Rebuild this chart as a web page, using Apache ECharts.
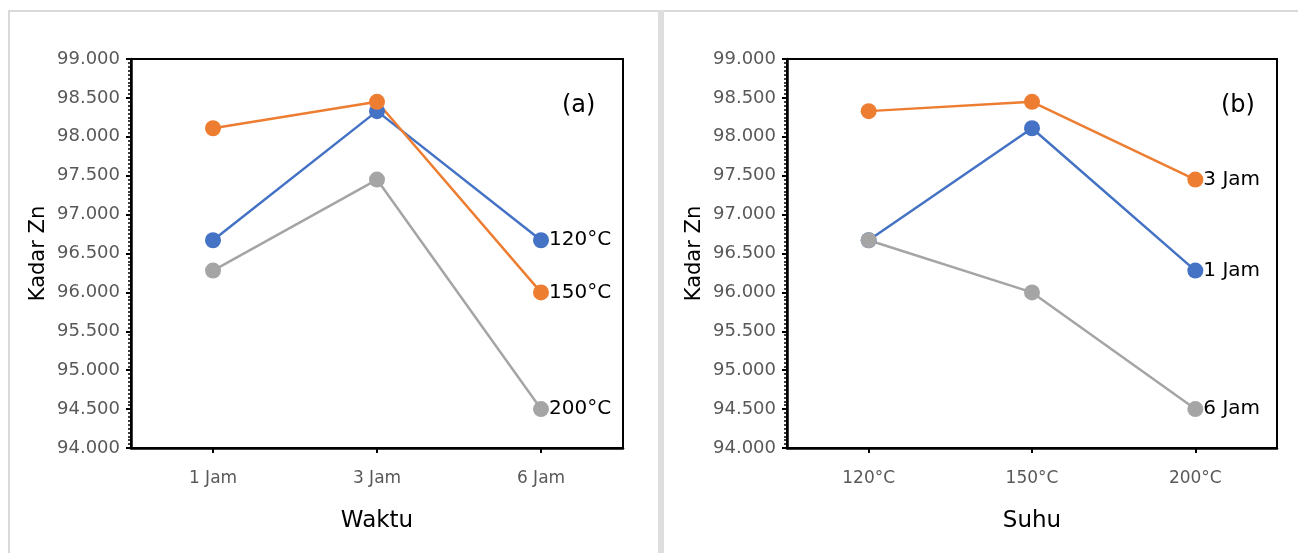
<!DOCTYPE html>
<html>
<head>
<meta charset="utf-8">
<script src="https://cdn.jsdelivr.net/npm/echarts@6/dist/echarts.min.js"></script>
<style>
  html, body { margin: 0; padding: 0; background: #fff; }
  #main { width: 1298px; height: 553px; }
</style>
</head>
<body>
<div id="main"></div>
<script>
// data
const waktu = ['1 Jam', '3 Jam', '6 Jam'];
const suhu = ['120°C', '150°C', '200°C'];
// Kadar Zn per temperature, over 1 / 3 / 6 Jam
const zn120 = [96.67, 98.33, 96.67];
const zn150 = [98.11, 98.45, 96.00];
const zn200 = [96.28, 97.45, 94.50];
const yTicks = [94, 99, 0.5];

const colors = ['#4472C4', '#ED7D31', '#A5A5A5'];
const byTemp = [zn120, zn150, zn200];
// same data regrouped by time for panel (b)
const byTime = waktu.map((_, t) => byTemp.map((row) => row[t]));

const myChart = echarts.init(document.getElementById('main'));

const font = 'DejaVu Sans';

function yAxisFor(gridIndex) {
  return {
    type: 'value',
    gridIndex: gridIndex,
    min: yTicks[0],
    max: yTicks[1],
    interval: yTicks[2],
    name: 'Kadar Zn',
    nameLocation: 'middle',
    nameGap: 82,
    nameTextStyle: { fontFamily: font, fontSize: 21, color: '#000' },
    axisLine: { show: true, lineStyle: { color: '#000', width: 2.5 } },
    axisTick: { show: true, inside: false, length: 5, lineStyle: { color: '#000', width: 2 } },
    minorTick: { show: true, splitNumber: 10, length: 3, lineStyle: { color: '#000', width: 1.5 } },
    splitLine: { show: false },
    axisLabel: {
      margin: 11,
      fontFamily: font,
      fontSize: 18,
      color: '#595959',
      formatter: (v) => v.toFixed(3),
    },
  };
}

function xAxisFor(gridIndex, cats, name) {
  return {
    type: 'category',
    gridIndex: gridIndex,
    data: cats,
    boundaryGap: true,
    name: name,
    nameLocation: 'middle',
    nameGap: 62,
    nameTextStyle: { fontFamily: font, fontSize: 23, color: '#000' },
    axisLine: { show: true, lineStyle: { color: '#000', width: 2.5 } },
    axisTick: { show: true, alignWithLabel: true, length: 5, lineStyle: { color: '#000', width: 2 } },
    axisLabel: { margin: 22, fontFamily: font, fontSize: 17, color: '#595959' },
    splitLine: { show: false },
  };
}

function lineSeries(name, data, color, idx) {
  return {
    type: 'line',
    name: name,
    data: data,
    xAxisIndex: idx,
    yAxisIndex: idx,
    symbol: 'circle',
    symbolSize: 16,
    color: color,
    lineStyle: { width: 2.5, color: color },
    itemStyle: { color: color },
    endLabel: {
      show: true,
      formatter: name,
      distance: 8,
      fontFamily: font,
      fontSize: 20,
      color: '#000',
    },
    animation: false,
  };
}

const seriesA = suhu.map((s, i) => lineSeries(s, byTemp[i], colors[i], 0));
const seriesB = waktu.map((t, i) => lineSeries(t, byTime[i], colors[i], 1));

const option = {
  backgroundColor: '#fff',
  animation: false,
  title: [
    { text: '(a)', left: 557, top: 89, textStyle: { fontFamily: font, fontSize: 24, fontWeight: 'normal', color: '#000' } },
    { text: '(b)', left: 1216, top: 89, textStyle: { fontFamily: font, fontSize: 24, fontWeight: 'normal', color: '#000' } },
  ],
  grid: [
    { left: 131, top: 59, width: 492, height: 389, show: true, borderColor: '#000', borderWidth: 2, backgroundColor: 'transparent' },
    { left: 787, top: 59, width: 490, height: 389, show: true, borderColor: '#000', borderWidth: 2, backgroundColor: 'transparent' },
  ],
  xAxis: [xAxisFor(0, waktu, 'Waktu'), xAxisFor(1, suhu, 'Suhu')],
  yAxis: [yAxisFor(0), yAxisFor(1)],
  series: [...seriesA, ...seriesB],
  graphic: [
    { type: 'line', shape: { x1: 8, y1: 11, x2: 1298, y2: 11 }, style: { stroke: '#d9d9d9', lineWidth: 2 }, silent: true },
    { type: 'line', shape: { x1: 9, y1: 10, x2: 9, y2: 553 }, style: { stroke: '#d9d9d9', lineWidth: 2 }, silent: true },
    { type: 'rect', shape: { x: 658, y: 10, width: 6, height: 543 }, style: { fill: '#dedede' }, silent: true },
  ],
};

myChart.setOption(option);
</script>
</body>
</html>
